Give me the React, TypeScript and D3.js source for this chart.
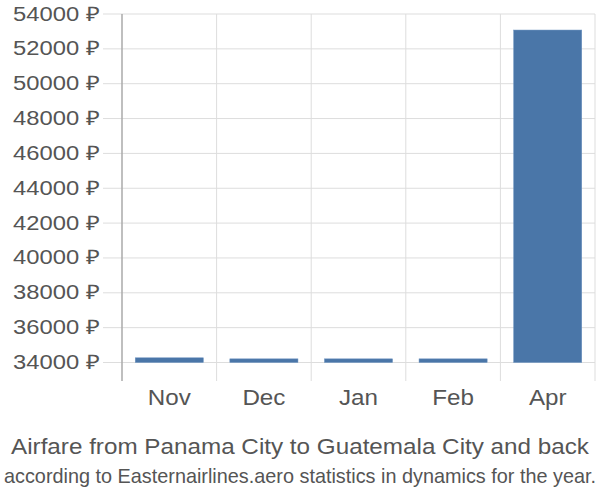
import React from "react";
import * as d3 from "d3";

const categories = ["Nov", "Dec", "Jan", "Feb", "Apr"];
const values = [34270, 34210, 34210, 34210, 53080];
const yTicks = [34000, 36000, 38000, 40000, 42000, 44000, 46000, 48000, 50000, 52000, 54000];
const title = "Airfare from Panama City to Guatemala City and back";
const subtitle = "according to Easternairlines.aero statistics in dynamics for the year.";

export default function App() {
  const W = 600, H = 500;
  const left = 122, right = 595, top = 14, base = 362.5;
  const x = d3.scaleBand<string>().domain(categories).range([left, right]).paddingInner(0.28).paddingOuter(0.14);
  const xb = d3.scaleBand<string>().domain(categories).range([left, right]);
  const y = d3.scaleLinear().domain([34000, 54000]).range([base, top]);
  const font = "'Liberation Sans', Arial, sans-serif";
  return (
    <svg width={W} height={H} style={{ position: "absolute", left: 0, top: 0, fontFamily: font }}>
      <rect width={W} height={H} fill="#fff" />
      {yTicks.map((t) => (
        <g key={t}>
          <line x1={103} x2={right} y1={y(t)} y2={y(t)} stroke="#ddd" strokeWidth={1} />
          <text x={100} y={y(t) + 6.5} textAnchor="end" fontSize={20} fill="#555" textLength={87} lengthAdjust="spacingAndGlyphs">
            {t} ₽
          </text>
        </g>
      ))}
      {categories.map((c) => (
        <line key={c} x1={(xb(c) as number) + xb.bandwidth()} x2={(xb(c) as number) + xb.bandwidth()} y1={top} y2={381} stroke="#ddd" strokeWidth={1} />
      ))}
      <line x1={left} x2={left} y1={top} y2={381} stroke="#aaa" strokeWidth={1.5} />
      {categories.map((c, i) => (
        <rect key={c} x={x(c)} y={y(values[i])} width={x.bandwidth()} height={base - y(values[i])} fill="#4a76a8" stroke="#6d93c0" strokeWidth={0.5} />
      ))}
      {categories.map((c) => (
        <text key={c} transform={`translate(${(xb(c) as number) + xb.bandwidth() / 2},405) scale(1.1,1)`} textAnchor="middle" fontSize={22} fill="#555">
          {c}
        </text>
      ))}
      <text x={300} y={454} textAnchor="middle" fontSize={22} fill="#555" textLength={578} lengthAdjust="spacingAndGlyphs">{title}</text>
      <text transform="translate(300,483) scale(1,1.235)" textAnchor="middle" fontSize={17} fill="#555" textLength={592} lengthAdjust="spacingAndGlyphs">{subtitle}</text>
    </svg>
  );
}
